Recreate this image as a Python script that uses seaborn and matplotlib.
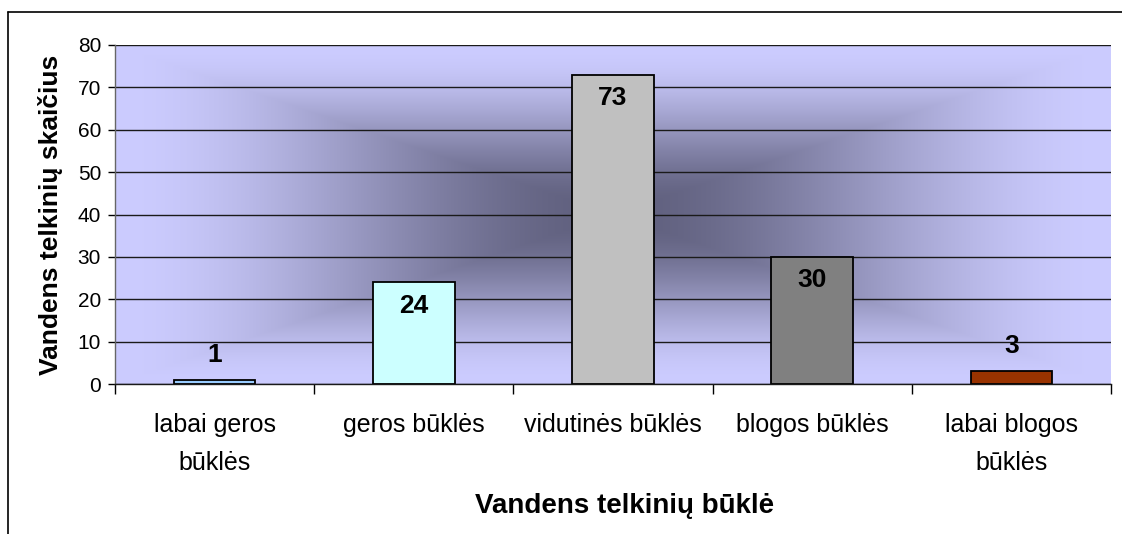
import numpy as np
import matplotlib
matplotlib.use("Agg")
import matplotlib.pyplot as plt
from matplotlib.lines import Line2D
import seaborn as sns

categories = ["labai geros\nbūklės", "geros būklės", "vidutinės būklės",
              "blogos būklės", "labai blogos\nbūklės"]
values = [1, 24, 73, 30, 3]
bar_colors = ["#99CCFF", "#CCFFFF", "#C0C0C0", "#808080", "#993300"]
y_ticks = [0, 10, 20, 30, 40, 50, 60, 70, 80]
x_title = "Vandens telkinių būklė"
y_title = "Vandens telkinių skaičius"

sns.set_style("white")
plt.rcParams["font.family"] = ["Liberation Sans", "DejaVu Sans"]
plt.rcParams["text.color"] = "black"
plt.rcParams["axes.labelcolor"] = "black"
plt.rcParams["xtick.color"] = "black"
plt.rcParams["ytick.color"] = "black"

fig = plt.figure(figsize=(11.22, 5.34), dpi=100)
ax = fig.add_axes([115 / 1122, 1 - 384 / 534, 996 / 1122, 339 / 534])

# background gradient (rectangular, dark centre -> lavender edges)
nx, ny = 600, 300
u = np.linspace(-1, 1, nx)
v = np.linspace(-1, 1, ny)
U, V = np.meshgrid(u, v)
t = np.clip(np.maximum(np.abs(U), np.abs(V)), 0, 1)
f = 3 * t ** 2 - 2 * t ** 3
c_center = np.array([96, 96, 126]) / 255
c_edge = np.array([204, 204, 255]) / 255
img = c_center[None, None, :] + (c_edge - c_center)[None, None, :] * f[:, :, None]
ax.imshow(img, extent=(0, 1, 0, 1), transform=ax.transAxes, aspect="auto",
          zorder=0, interpolation="bilinear")

sns.barplot(x=list(range(len(values))), y=values, hue=list(range(len(values))),
            palette=bar_colors, legend=False, width=0.41, edgecolor="black",
            linewidth=1.3, saturation=1, ax=ax, zorder=2)

ax.set_xlim(-0.5, len(values) - 0.5)
ax.set_ylim(0, 80)
ax.set_yticks(y_ticks)
ax.set_yticklabels([str(y) for y in y_ticks], fontsize=15)
ax.yaxis.grid(True, color="#1a1a1a", linewidth=1.0, zorder=1)
ax.xaxis.grid(False)
ax.set_axisbelow(True)

ax.set_xticks(range(len(categories)))
ax.set_xticklabels(categories, fontsize=18, linespacing=1.75)
ax.set_xticks(np.arange(-0.5, len(values), 1.0), minor=True)
ax.tick_params(axis="x", which="major", length=0, pad=21)
ax.tick_params(axis="x", which="minor", length=7, width=1, color="black",
               direction="out", bottom=True)
ax.tick_params(axis="y", length=5, width=1, color="black", direction="out",
               left=True, pad=5)

for s in ["top", "right"]:
    ax.spines[s].set_visible(False)
ax.spines["left"].set_color("#666666")
ax.spines["bottom"].set_color("#1a1a1a")
ax.spines["left"].set_linewidth(1)
ax.spines["bottom"].set_linewidth(1)

ax.set_xlabel(x_title, fontsize=20, fontweight="bold")
ax.set_ylabel(y_title, fontsize=19, fontweight="bold")
ax.xaxis.set_label_coords(0.512, -0.322)
ax.yaxis.set_label_coords(-0.052, 0.5)

for i, val in enumerate(values):
    if val < 5:
        ax.annotate(str(val), (i, val), xytext=(0, 18), textcoords="offset points",
                    ha="center", va="center", fontsize=19, fontweight="bold", zorder=5)
    else:
        ax.annotate(str(val), (i, val), xytext=(0, -17), textcoords="offset points",
                    ha="center", va="center", fontsize=19, fontweight="bold", zorder=5)

# outer frame (partial, as in the reference crop)
fig.add_artist(Line2D([8 / 1122, 8 / 1122], [0, 1 - 12 / 534], color="black",
                      linewidth=1.2, transform=fig.transFigure))
fig.add_artist(Line2D([8 / 1122, 1], [1 - 12 / 534, 1 - 12 / 534], color="black",
                      linewidth=1.2, transform=fig.transFigure))

fig.savefig("out.png", dpi=100, facecolor="white")
